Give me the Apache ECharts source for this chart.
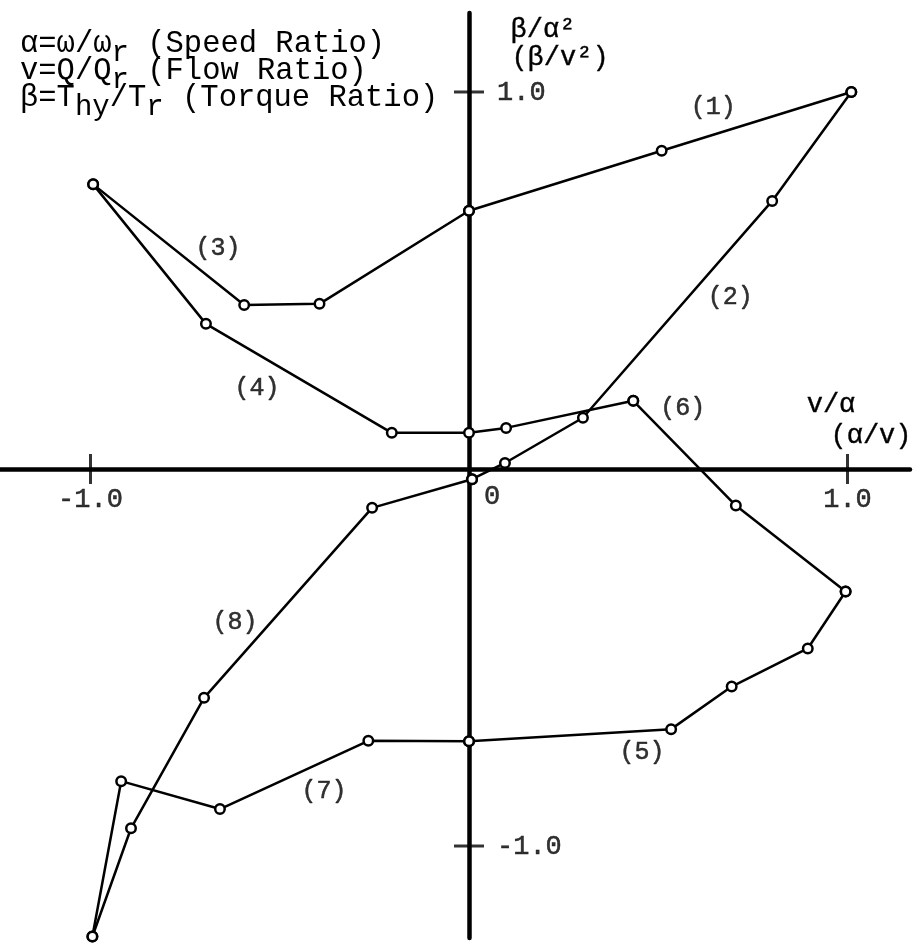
<!DOCTYPE html>
<html>
<head>
<meta charset="utf-8">
<script src="https://cdn.jsdelivr.net/npm/echarts@6/dist/echarts.min.js"></script>
<style>
  html, body { margin: 0; padding: 0; background: #fff; }
  #chart { width: 916px; height: 946px; }
</style>
</head>
<body>
<div id="chart"></div>
<script>
// Operating trajectory of the hydraulic unit in normalised coordinates:
// horizontal v/α (α/v), vertical β/α² (β/v²).
const curve1 = [[0, 0.685], [0.509, 0.844], [1.01, 1.0]];
const curve2 = [[1.01, 1.0], [0.801, 0.711], [0.301, 0.136], [0.095, 0.016], [0.008, -0.027]];
const curve8 = [[0.008, -0.027], [-0.256, -0.103], [-0.700, -0.607], [-0.893, -0.953], [-0.995, -1.24]];
const curve3 = [[-0.993, 0.755], [-0.594, 0.435], [-0.395, 0.438], [0, 0.685]];
const curve4 = [[-0.993, 0.755], [-0.695, 0.385], [-0.204, 0.096], [0, 0.096], [0.098, 0.109], [0.434, 0.181]];
const curve6 = [[0.434, 0.181], [0.705, -0.097], [0.995, -0.325]];
const curve5 = [[0.995, -0.325], [0.895, -0.476], [0.694, -0.577], [0.534, -0.690], [0, -0.722]];
const curve7 = [[0, -0.722], [-0.266, -0.721], [-0.658, -0.902], [-0.919, -0.828], [-0.995, -1.24]];

// Segment tags and where they sit (data units)
const tagNames = ['(1)', '(2)', '(3)', '(4)', '(5)', '(6)', '(7)', '(8)'];
const tagAnchors = [[0.645, 0.958], [0.690, 0.456], [-0.663, 0.584], [-0.560, 0.215],
                    [0.457, -0.751], [0.565, 0.162], [-0.383, -0.854], [-0.618, -0.406]];

// Axis ticks and tick labels
const xTickValues = [-1, 1];
const yTickValues = [-1, 1];
const xTickLabels = ['-1.0', '1.0'];
const yTickLabels = ['-1.0', '1.0'];
const originLabel = '0';

const MONO = '"Liberation Mono", "DejaVu Sans Mono", monospace';
// a hairline outline gives the thin mono glyphs a typewriter weight
const INK = { color: '#000', textBorderColor: '#000', textBorderWidth: 0.5 };

const chart = echarts.init(document.getElementById('chart'), null, { renderer: 'canvas' });

function curveSeries(name, data) {
  return {
    name: name,
    type: 'line',
    data: data,
    clip: false,
    silent: true,
    symbol: 'circle',
    symbolSize: 9.5,
    showSymbol: true,
    lineStyle: { color: '#000', width: 2.5 },
    itemStyle: { color: '#fff', borderColor: '#000', borderWidth: 2.5 },
    z: 3
  };
}

// Text placed at a data point, shifted by a pixel offset
function labelSeries(name, points, texts, offset, align, size) {
  return {
    name: name, type: 'scatter', silent: true, z: 4,
    data: points, symbolSize: 0,
    label: Object.assign({
      show: true, position: 'inside', offset: offset,
      align: align || 'center', verticalAlign: 'middle',
      fontFamily: MONO, fontSize: size || 27,
      formatter: function (p) { return texts[p.dataIndex]; }
    }, INK)
  };
}

const legendRows = [
  '{t|α=ω/ω}{s|r}{t| (Speed Ratio)}',
  '{t|v=Q/Q}{s|r}{t| (Flow Ratio)}',
  '{t|β=T}{s|hy}{t|/T}{s|r}{t| (Torque Ratio)}'
];
const legendRich = {
  t: { fontFamily: MONO, fontSize: 30.5, color: '#000' },
  s: { fontFamily: MONO, fontSize: 29, color: '#000', padding: [20, 0, 0, 0] }
};

function axisName(text, x, y) {
  return {
    type: 'text', x: x, y: y, silent: true,
    style: { text: text, fontFamily: MONO, fontSize: 27, fill: '#000',
             stroke: '#000', lineWidth: 0.4, align: 'center', verticalAlign: 'middle' }
  };
}

const option = {
  backgroundColor: '#fff',
  animation: false,
  grid: { left: 0, right: 6, top: 13, bottom: 8, containLabel: false },
  xAxis: {
    type: 'value',
    min: -1.2391,
    max: 1.1651,
    axisLine: { onZero: true, lineStyle: { color: '#000', width: 4.5 } },
    axisTick: { show: false },
    splitLine: { show: false },
    axisLabel: { show: false }
  },
  yAxis: {
    type: 'value',
    min: -1.2440,
    max: 1.2095,
    axisLine: { onZero: true, lineStyle: { color: '#000', width: 4.5 } },
    axisTick: { show: false },
    splitLine: { show: false },
    axisLabel: { show: false }
  },
  series: [
    curveSeries('1', curve1),
    curveSeries('2', curve2),
    curveSeries('8', curve8),
    curveSeries('3', curve3),
    curveSeries('4', curve4),
    curveSeries('6', curve6),
    curveSeries('5', curve5),
    curveSeries('7', curve7),
    {
      name: 'xTicks', type: 'scatter', silent: true, z: 2,
      data: xTickValues.map(function (v) { return [v, 0]; }),
      symbol: 'rect', symbolSize: [3, 30], itemStyle: { color: '#000' }
    },
    {
      name: 'yTicks', type: 'scatter', silent: true, z: 2,
      data: yTickValues.map(function (v) { return [0, v]; }),
      symbol: 'rect', symbolSize: [30, 3], itemStyle: { color: '#000' }
    },
    labelSeries('xTickText', xTickValues.map(function (v) { return [v, 0]; }), xTickLabels, [0, 31]),
    labelSeries('yTickText', yTickValues.map(function (v) { return [0, v]; }), yTickLabels, [28, 1], 'left'),
    labelSeries('originText', [[0, 0]], [originLabel], [23, 28]),
    labelSeries('tags', tagAnchors, tagNames, [0, 0], 'center', 25)
  ],
  graphic: [
    {
      type: 'text', left: 20, top: 28, silent: true,
      style: { text: legendRows[0], rich: legendRich, fontFamily: MONO, fontSize: 30.5 }
    },
    {
      type: 'text', left: 20, top: 55, silent: true,
      style: { text: legendRows[1], rich: legendRich, fontFamily: MONO, fontSize: 30.5 }
    },
    {
      type: 'text', left: 20, top: 82, silent: true,
      style: { text: legendRows[2], rich: legendRich, fontFamily: MONO, fontSize: 30.5 }
    },
    axisName('β/α²', 543, 30),
    axisName('(β/v²)', 560, 58),
    axisName('v/α', 831, 405),
    axisName('(α/v)', 871, 436)
  ]
};

chart.setOption(option);
</script>
</body>
</html>
